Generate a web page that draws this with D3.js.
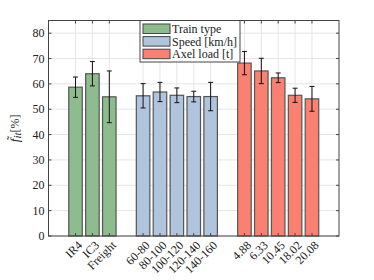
<!DOCTYPE html>
<html><head><meta charset="utf-8">
<script src="https://cdn.jsdelivr.net/npm/d3@7"></script>
<style>body{margin:0;background:#fff}svg{display:block}text{font-family:"Liberation Serif","Times New Roman",serif;fill:#222}</style>
</head><body><svg id="c" width="374" height="280"></svg>
<script>
const categories = ["IR4","IC3","Freight","60-80","80-100","100-120","120-140","140-160","4.88","6.33","10.45","18.02","20.08"];
const positions  = [1,2,3,5,6,7,8,9,11,12,13,14,15];
const groups     = [0,0,0,1,1,1,1,1,2,2,2,2,2];
const values     = [58.7,64.0,54.9,55.3,56.8,55.5,55.0,55.0,68.2,65.1,62.4,55.5,54.1];
const errors     = [4.0,4.8,10.2,4.8,3.8,2.9,2.1,5.6,4.6,5.0,1.9,2.8,4.9];
const legendLabels = ["Train type","Speed [km/h]","Axel load [t]"];
const colors = ["#8fbc8f","#b0c4de","#fa8072"];
const yTicks = [0,10,20,30,40,50,60,70,80];

const svg = d3.select("#c");
const L=48.5,R=339,T=20.5,B=236;
const x = d3.scaleLinear().domain([-0.6,16.6]).range([L,R]);
const y = d3.scaleLinear().domain([0,85]).range([B,T]);
const bw = (x(1)-x(0))*0.8;

// grid
const g = svg.append("g");
g.selectAll(".gy").data(yTicks).join("line")
 .attr("x1",L).attr("x2",R).attr("y1",d=>y(d)).attr("y2",d=>y(d))
 .attr("stroke","#e5e5e5").attr("stroke-width",1);
g.selectAll(".gx").data(positions).join("line")
 .attr("x1",d=>x(d)).attr("x2",d=>x(d)).attr("y1",T).attr("y2",B)
 .attr("stroke","#e5e5e5").attr("stroke-width",1);

// bars
svg.append("g").selectAll("rect").data(values).join("rect")
 .attr("x",(d,i)=>x(positions[i])-bw/2).attr("width",bw)
 .attr("y",d=>y(d)).attr("height",d=>B-y(d))
 .attr("fill",(d,i)=>colors[groups[i]]).attr("stroke","#555").attr("stroke-width",1.2);

// error bars
const eb = svg.append("g").attr("stroke","#111").attr("stroke-width",1);
values.forEach((v,i)=>{
  const cx=x(positions[i]), y1=y(v+errors[i]), y2=y(v-errors[i]);
  eb.append("line").attr("x1",cx).attr("x2",cx).attr("y1",y1).attr("y2",y2);
  eb.append("line").attr("x1",cx-2.5).attr("x2",cx+2.5).attr("y1",y1).attr("y2",y1);
  eb.append("line").attr("x1",cx-2.5).attr("x2",cx+2.5).attr("y1",y2).attr("y2",y2);
});

// axes box + ticks
const ax = svg.append("g").attr("stroke","#444").attr("stroke-width",1);
ax.append("rect").attr("x",L).attr("y",T).attr("width",R-L).attr("height",B-T).attr("fill","none");
positions.forEach(p=>{
  ax.append("line").attr("x1",x(p)).attr("x2",x(p)).attr("y1",B).attr("y2",B-3);
  ax.append("line").attr("x1",x(p)).attr("x2",x(p)).attr("y1",T).attr("y2",T+3);
});
yTicks.forEach(t=>{
  ax.append("line").attr("x1",L).attr("x2",L+3).attr("y1",y(t)).attr("y2",y(t));
  ax.append("line").attr("x1",R).attr("x2",R-3).attr("y1",y(t)).attr("y2",y(t));
});

// y tick labels
svg.append("g").selectAll("text").data(yTicks).join("text")
 .attr("x",L-4).attr("y",d=>y(d)).attr("dy","0.35em").attr("text-anchor","end")
 .attr("font-size",12).text(d=>d);

// x tick labels
svg.append("g").selectAll("text").data(categories).join("text")
 .attr("transform",(d,i)=>`translate(${x(positions[i])+4.5},${B+7}) rotate(-45)`)
 .attr("text-anchor","end").attr("dy","0.35em").attr("font-size",12).text(d=>d);

// y label
const yl = svg.append("text").attr("transform",`translate(19,${(T+B)/2}) rotate(-90)`)
 .attr("text-anchor","middle").attr("font-size",13);
yl.append("tspan").attr("font-style","italic").text("f\u0303");
yl.append("tspan").attr("font-style","italic").attr("font-size",11).attr("dy",2).text("it");
yl.append("tspan").attr("dy",-2).attr("font-size",12).text("[%]");

// legend
const lg = svg.append("g");
lg.append("rect").attr("x",140).attr("y",20.5).attr("width",100).attr("height",41.5)
 .attr("fill","#fff").attr("stroke","#444").attr("stroke-width",1);
legendLabels.forEach((s,i)=>{
  const yy = 24 + i*12.6;
  lg.append("rect").attr("x",143).attr("y",yy).attr("width",27).attr("height",9.5)
   .attr("fill",colors[i]).attr("stroke","#444").attr("stroke-width",1);
  lg.append("text").attr("x",172).attr("y",yy+4.8).attr("dy","0.35em").attr("font-size",12).text(s);
});
</script></body></html>
